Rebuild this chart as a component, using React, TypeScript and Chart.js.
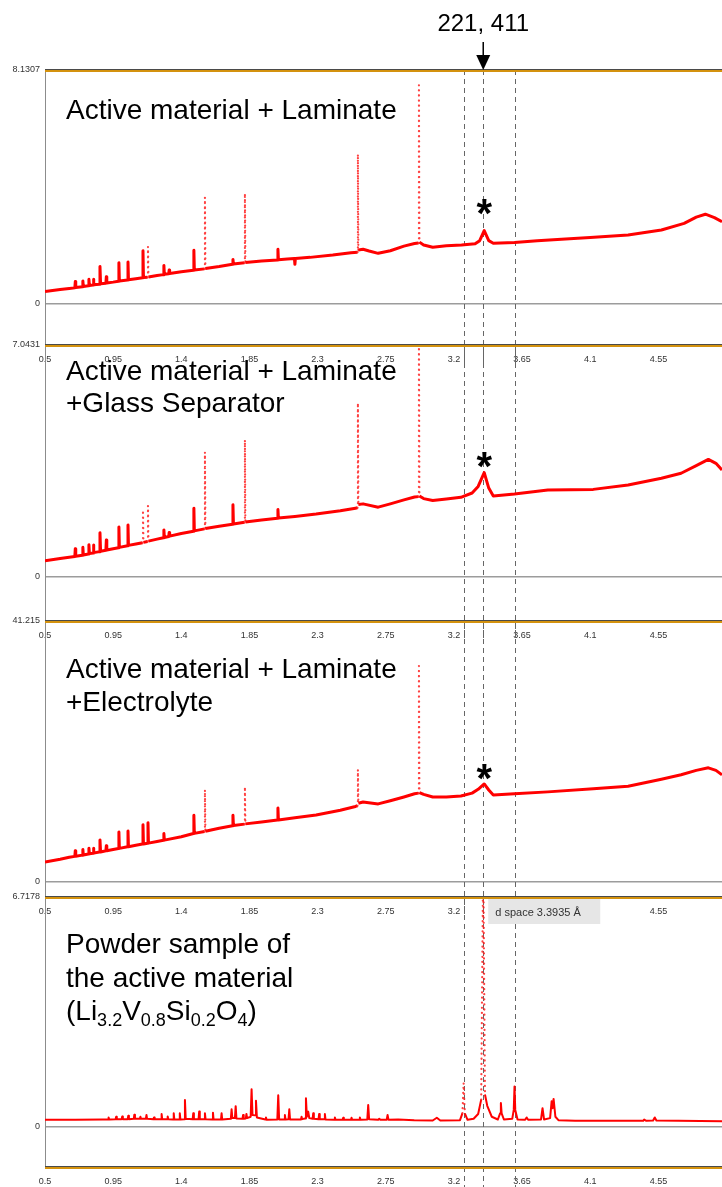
import React, { useEffect, useRef } from 'react';
import { Chart, registerables } from 'chart.js';

Chart.register(...registerables);

const FONT = '"Liberation Sans", Arial, Helvetica, sans-serif';

// x axis (d spacing, Å)
const xTicks = [0.5, 0.95, 1.4, 1.85, 2.3, 2.75, 3.2, 3.65, 4.1, 4.55];
const X_MIN = 0.5;
const X_MAX = 4.97;
const markerLines = [3.264, 3.3935, 3.6];
const highlightD = 3.3935;
const arrowLabel = '221, 411';
const tooltipLabel = 'd space 3.3935 Å';

// Panel 1: Active material + Laminate
const dLaminate = [
  0.5, 0.55, 0.6, 0.66, 0.697, 0.7, 0.703, 0.747, 0.75, 0.753, 0.787, 0.79, 0.793, 0.817, 0.82, 0.823,
  0.859, 0.863, 0.867, 0.902, 0.905, 0.908, 0.95, 0.985, 0.988, 0.991, 1.045, 1.048, 1.051, 1.1,
  1.144, 1.147, 1.15, 1.177, 1.18, 1.183, 1.24, 1.282, 1.285, 1.288, 1.317, 1.32, 1.323, 1.4,
  1.48, 1.483, 1.486, 1.553, 1.556, 1.559, 1.65, 1.738, 1.741, 1.744, 1.817, 1.82, 1.823, 1.93,
  2.035, 2.038, 2.041, 2.1, 2.147, 2.15, 2.153, 2.25, 2.4, 2.52, 2.563, 2.566, 2.569, 2.6, 2.64,
  2.7, 2.78, 2.87, 2.94, 2.966, 2.969, 2.972, 3.0, 3.06, 3.15, 3.25, 3.34, 3.37, 3.4, 3.43, 3.46,
  3.6, 3.75, 3.91, 4.1, 4.35, 4.57, 4.72, 4.8, 4.86, 4.92, 4.97,
];
const iLaminate = [
  0.43, 0.47, 0.5, 0.54, 0.56, 0.78, 0.57, 0.6, 0.8, 0.61, 0.63, 0.86, 0.64, 0.66, 0.86, 0.67,
  0.69, 1.3, 0.7, 0.72, 0.95, 0.73, 0.76, 0.79, 1.43, 0.8, 0.83, 1.46, 0.84, 0.88,
  0.91, 1.85, 0.92, 0.93, 1.99, 0.94, 0.99, 1.02, 1.34, 1.03, 1.05, 1.18, 1.06, 1.12,
  1.17, 1.87, 1.18, 1.22, 3.7, 1.23, 1.3, 1.38, 1.55, 1.39, 1.43, 3.84, 1.44, 1.49,
  1.53, 1.9, 1.54, 1.56, 1.58, 1.38, 1.58, 1.62, 1.7, 1.78, 1.8, 5.2, 1.88, 1.9, 1.84,
  1.76, 1.85, 2.01, 2.1, 2.12, 7.6, 2.15, 2.05, 1.97, 2.02, 2.05, 2.09, 2.2, 2.55, 2.2, 2.11,
  2.14, 2.2, 2.25, 2.31, 2.4, 2.57, 2.8, 3.02, 3.12, 3.0, 2.86,
];

// Panel 2: Active material + Laminate + Glass Separator
const dGlass = [
  0.5, 0.6, 0.66, 0.697, 0.7, 0.703, 0.747, 0.75, 0.753, 0.787, 0.79, 0.793, 0.817, 0.82, 0.823,
  0.859, 0.863, 0.867, 0.902, 0.905, 0.908, 0.95, 0.985, 0.988, 0.991, 1.045, 1.048, 1.051, 1.1,
  1.144, 1.147, 1.15, 1.177, 1.18, 1.183, 1.24, 1.282, 1.285, 1.288, 1.317, 1.32, 1.323, 1.4,
  1.48, 1.483, 1.486, 1.553, 1.556, 1.559, 1.65, 1.738, 1.741, 1.744, 1.817, 1.82, 1.823, 1.93,
  2.035, 2.038, 2.041, 2.15, 2.29, 2.45, 2.55, 2.563, 2.566, 2.569, 2.6, 2.7, 2.78, 2.87, 2.94,
  2.966, 2.969, 2.972, 3.0, 3.06, 3.15, 3.246, 3.32, 3.36, 3.4, 3.43, 3.46, 3.6, 3.82, 4.12,
  4.35, 4.57, 4.7, 4.8, 4.88, 4.93, 4.97,
];
const iGlass = [
  0.49, 0.56, 0.6, 0.62, 0.86, 0.63, 0.66, 0.9, 0.67, 0.7, 0.98, 0.71, 0.73, 0.97, 0.74,
  0.77, 1.34, 0.78, 0.81, 1.12, 0.82, 0.86, 0.89, 1.52, 0.9, 0.95, 1.58, 0.96, 1.0,
  1.04, 2.03, 1.05, 1.08, 2.16, 1.09, 1.15, 1.19, 1.43, 1.2, 1.23, 1.35, 1.24, 1.32,
  1.39, 2.09, 1.4, 1.46, 3.79, 1.47, 1.54, 1.6, 2.19, 1.61, 1.66, 4.16, 1.67, 1.73,
  1.78, 2.05, 1.79, 1.84, 1.91, 2.01, 2.09, 2.1, 5.28, 2.2, 2.22, 2.12, 2.22, 2.34, 2.43,
  2.44, 7.3, 2.46, 2.38, 2.32, 2.37, 2.42, 2.55, 2.75, 3.17, 2.7, 2.46, 2.52, 2.64, 2.66,
  2.79, 3.0, 3.15, 3.38, 3.57, 3.45, 3.25,
];

// Panel 3: Active material + Laminate + Electrolyte
const dElectrolyte = [
  0.5, 0.6, 0.66, 0.697, 0.7, 0.703, 0.747, 0.75, 0.753, 0.787, 0.79, 0.793, 0.817, 0.82, 0.823,
  0.859, 0.863, 0.867, 0.902, 0.905, 0.908, 0.95, 0.985, 0.988, 0.991, 1.045, 1.048, 1.051, 1.1,
  1.144, 1.147, 1.15, 1.177, 1.18, 1.183, 1.24, 1.282, 1.285, 1.288, 1.4,
  1.48, 1.483, 1.486, 1.553, 1.556, 1.559, 1.65, 1.738, 1.741, 1.744, 1.817, 1.82, 1.823, 1.93,
  2.035, 2.038, 2.041, 2.15, 2.29, 2.45, 2.55, 2.563, 2.566, 2.569, 2.6, 2.7, 2.78, 2.87, 2.94,
  2.966, 2.969, 2.972, 3.0, 3.06, 3.15, 3.246, 3.32, 3.36, 3.4, 3.43, 3.46, 3.6, 3.82, 4.12,
  4.35, 4.57, 4.7, 4.8, 4.88, 4.93, 4.97,
];
const iElectrolyte = [
  3.11, 3.55, 3.85, 4.0, 4.9, 4.02, 4.2, 5.1, 4.22, 4.38, 5.3, 4.4, 4.5, 5.3, 4.52,
  4.68, 6.6, 4.7, 4.88, 5.7, 4.9, 5.1, 5.25, 7.85, 5.27, 5.52, 8.0, 5.54, 5.76,
  5.95, 9.0, 5.97, 6.08, 9.3, 6.1, 6.35, 6.55, 7.6, 6.57, 7.1,
  7.62, 10.5, 7.64, 7.95, 14.5, 7.97, 8.45, 8.85, 10.5, 8.87, 9.1, 15.0, 9.14, 9.45,
  9.75, 11.65, 9.77, 10.1, 10.55, 11.3, 11.9, 12.0, 17.7, 12.4, 12.6, 12.3, 12.8, 13.4, 13.9,
  14.0, 34.1, 14.1, 13.8, 13.4, 13.4, 13.55, 14.0, 14.6, 15.45, 14.5, 13.7, 13.9, 14.2, 14.7,
  15.1, 16.2, 16.9, 17.6, 18.0, 17.6, 16.9,
];

// Panel 4: Powder sample of the active material
const dPowder = [
  0.5, 0.7, 0.88, 0.916, 0.92, 0.924, 0.966, 0.97, 0.974, 1.006, 1.01, 1.014, 1.046, 1.05, 1.054,
  1.086, 1.09, 1.094, 1.126, 1.13, 1.134, 1.166, 1.17, 1.174, 1.216, 1.22, 1.224, 1.266, 1.27, 1.274,
  1.306, 1.31, 1.314, 1.346, 1.35, 1.354, 1.386, 1.39, 1.394, 1.419, 1.424, 1.429, 1.475, 1.479, 1.483,
  1.514, 1.518, 1.522, 1.552, 1.556, 1.56, 1.605, 1.609, 1.613, 1.662, 1.666, 1.67, 1.727, 1.732, 1.737,
  1.754, 1.759, 1.764, 1.804, 1.808, 1.812, 1.826, 1.83, 1.834, 1.858, 1.864, 1.87, 1.887, 1.893, 1.899,
  1.955, 1.959, 1.963, 2.034, 2.04, 2.046, 2.08, 2.084, 2.088, 2.108, 2.113, 2.118, 2.19, 2.194, 2.198,
  2.217, 2.223, 2.229, 2.238, 2.245, 2.267, 2.271, 2.275, 2.306, 2.31, 2.314, 2.344, 2.348, 2.352,
  2.41, 2.414, 2.418, 2.465, 2.469, 2.473, 2.52, 2.524, 2.528, 2.575, 2.579, 2.583, 2.628, 2.634, 2.64,
  2.7, 2.707, 2.714, 2.756, 2.762, 2.768, 2.832, 2.938, 3.06, 3.087, 3.11, 3.24, 3.256, 3.264, 3.272, 3.29,
  3.33, 3.36, 3.38, 3.3935, 3.405, 3.42, 3.45, 3.49, 3.505, 3.51, 3.515, 3.53, 3.585, 3.595, 3.6, 3.605, 3.62,
  3.67, 3.68, 3.69, 3.775, 3.785, 3.795, 3.835, 3.845, 3.852, 3.858, 3.87, 3.89, 4.0, 4.45, 4.456, 4.47,
  4.515, 4.526, 4.537, 4.97,
];
const iPowder = [
  0.21, 0.21, 0.22, 0.22, 0.28, 0.22, 0.23, 0.3, 0.23, 0.23, 0.31, 0.23, 0.23, 0.33, 0.23,
  0.24, 0.36, 0.24, 0.24, 0.3, 0.24, 0.24, 0.35, 0.24, 0.23, 0.28, 0.23, 0.23, 0.38, 0.23,
  0.23, 0.31, 0.23, 0.22, 0.4, 0.22, 0.22, 0.4, 0.22, 0.23, 0.79, 0.24, 0.23, 0.4, 0.23,
  0.23, 0.45, 0.23, 0.23, 0.4, 0.23, 0.22, 0.42, 0.22, 0.22, 0.4, 0.22, 0.24, 0.52, 0.26,
  0.26, 0.61, 0.25, 0.24, 0.35, 0.24, 0.25, 0.38, 0.26, 0.3, 1.1, 0.35, 0.34, 0.77, 0.28,
  0.22, 0.28, 0.21, 0.22, 0.93, 0.22, 0.22, 0.35, 0.22, 0.23, 0.52, 0.22, 0.22, 0.3, 0.23,
  0.25, 0.84, 0.3, 0.45, 0.26, 0.24, 0.4, 0.24, 0.23, 0.38, 0.23, 0.23, 0.38, 0.22,
  0.21, 0.28, 0.21, 0.21, 0.27, 0.21, 0.21, 0.27, 0.21, 0.21, 0.28, 0.21, 0.22, 0.64, 0.23,
  0.21, 0.24, 0.21, 0.21, 0.35, 0.21, 0.22, 0.2, 0.19, 0.27, 0.19, 0.2, 0.4, 1.28, 0.4, 0.21,
  0.24, 0.38, 0.8, 8.0, 0.95, 0.62, 0.3, 0.22, 0.4, 0.7, 0.4, 0.22, 0.24, 0.5, 1.18, 0.5, 0.22,
  0.21, 0.28, 0.21, 0.22, 0.55, 0.22, 0.26, 0.75, 0.55, 0.82, 0.3, 0.2, 0.18, 0.18, 0.22, 0.18,
  0.19, 0.28, 0.19, 0.17,
];

const panelMax = [8.1307, 7.0431, 41.215, 6.7178];
const panelMin = [-1.425, -1.336, -2.42, -1.197];

type Spec = {
  d: number[];
  v: number[];
  max: number;
  min: number;
  top: number;
  height: number;
  padTop: number;
  axisH: number;
  labelPad: number;
  lineW: number;
  title: string[];
  titleY: number[];
  starY?: number;
  first?: boolean;
  last?: boolean;
};

const PAD = 14;

const specs: Spec[] = [
  { d: dLaminate, v: iLaminate, max: panelMax[0], min: panelMin[0], top: 0, height: 365, padTop: 70, axisH: 20, labelPad: 9, lineW: 3,
    title: ['Active material + Laminate'], titleY: [49], starY: 138, first: true },
  { d: dGlass, v: iGlass, max: panelMax[1], min: panelMin[1], top: 345 - PAD, height: 296 + PAD, padTop: PAD, axisH: 20, labelPad: 9, lineW: 3,
    title: ['Active material + Laminate', '+Glass Separator'], titleY: [35, 67], starY: 116 },
  { d: dElectrolyte, v: iElectrolyte, max: panelMax[2], min: panelMin[2], top: 621 - PAD, height: 296 + PAD, padTop: PAD, axisH: 20, labelPad: 9, lineW: 3,
    title: ['Active material + Laminate', '+Electrolyte'], titleY: [57, 90], starY: 152 },
  { d: dPowder, v: iPowder, max: panelMax[3], min: panelMin[3], top: 897 - PAD, height: 290 + PAD, padTop: PAD, axisH: 19, labelPad: 8, lineW: 2,
    title: ['Powder sample of', 'the active material'], titleY: [56, 90], last: true },
];

function goldLine(ctx: CanvasRenderingContext2D, left: number, right: number, y: number) {
  ctx.fillStyle = '#4a4a4a';
  ctx.fillRect(left, y - 1, right - left, 1);
  ctx.fillStyle = '#d4920e';
  ctx.fillRect(left, y, right - left, 2);
}

function makePlugin(s: Spec) {
  return {
    id: 'decor',
    beforeDatasetsDraw(chart: any) {
      const { ctx, chartArea: a, scales } = chart;
      ctx.save();
      ctx.strokeStyle = '#666';
      ctx.lineWidth = 1;
      ctx.setLineDash([5, 4]);
      for (const m of markerLines) {
        const px = Math.round(scales.x.getPixelForValue(m)) + 0.5;
        ctx.beginPath();
        ctx.moveTo(px, a.top);
        ctx.lineTo(px, chart.height);
        ctx.stroke();
      }
      ctx.restore();
    },
    afterDraw(chart: any) {
      const { ctx, chartArea: a, scales } = chart;
      const hx = scales.x.getPixelForValue(highlightD);
      ctx.save();
      goldLine(ctx, a.left, a.right, a.top);
      if (s.last) goldLine(ctx, a.left, a.right, a.bottom - 1);

      ctx.fillStyle = '#000';
      ctx.textBaseline = 'alphabetic';
      ctx.textAlign = 'left';
      ctx.font = `28px ${FONT}`;
      s.title.forEach((t, k) => ctx.fillText(t, a.left + 21, a.top + s.titleY[k]));

      if (s.last) {
        // (Li3.2V0.8Si0.2O4)
        const parts: [string, boolean][] = [['(Li', false], ['3.2', true], ['V', false], ['0.8', true], ['Si', false], ['0.2', true], ['O', false], ['4', true], [')', false]];
        let x = a.left + 21;
        const base = a.top + 123;
        for (const [t, sub] of parts) {
          ctx.font = sub ? `18px ${FONT}` : `28px ${FONT}`;
          ctx.fillText(t, x, sub ? base + 6 : base);
          x += ctx.measureText(t).width;
        }
        // tooltip box
        const bx = hx + 5;
        const by = a.top + 2;
        ctx.fillStyle = '#e6e6e6';
        ctx.fillRect(bx, by, 112, 25);
        ctx.fillStyle = '#333';
        ctx.font = `11px ${FONT}`;
        ctx.fillText(tooltipLabel, bx + 7, by + 17);
      }

      if (s.starY !== undefined) {
        ctx.fillStyle = '#000';
        ctx.font = `bold 40px ${FONT}`;
        ctx.textAlign = 'center';
        ctx.textBaseline = 'middle';
        ctx.fillText('*', hx + 1, a.top + s.starY + 8);
      }

      if (s.first) {
        ctx.fillStyle = '#000';
        ctx.textAlign = 'center';
        ctx.textBaseline = 'alphabetic';
        ctx.font = `24px ${FONT}`;
        ctx.fillText(arrowLabel, hx, 31);
        ctx.strokeStyle = '#000';
        ctx.lineWidth = 1.5;
        ctx.setLineDash([]);
        ctx.beginPath();
        ctx.moveTo(hx, 42);
        ctx.lineTo(hx, 58);
        ctx.stroke();
        ctx.beginPath();
        ctx.moveTo(hx - 7, 55);
        ctx.lineTo(hx + 7, 55);
        ctx.lineTo(hx, 70);
        ctx.closePath();
        ctx.fill();
      }
      ctx.restore();
    },
  };
}

function steep(c: any) {
  return Math.abs(c.p1.y - c.p0.y) > 28;
}

function Panel({ s }: { s: Spec }) {
  const ref = useRef<HTMLCanvasElement | null>(null);
  useEffect(() => {
    if (!ref.current) return;
    const chart = new Chart(ref.current, {
      type: 'line',
      data: {
        datasets: [
          {
            data: s.d.map((x, k) => ({ x, y: s.v[k] })),
            borderColor: '#ff0000',
            borderWidth: s.lineW,
            borderJoinStyle: 'round',
            pointRadius: 0,
            tension: 0,
            segment: {
              borderDash: (c: any) => (steep(c) ? [0.1, 5] : undefined),
              borderWidth: (c: any) => (steep(c) ? 2.2 : undefined),
              borderCapStyle: (c: any) => (steep(c) ? 'round' : undefined),
              borderColor: (c: any) => (steep(c) ? 'rgba(255,30,30,0.85)' : undefined),
            },
          } as any,
        ],
      },
      options: {
        animation: false,
        responsive: false,
        devicePixelRatio: 1,
        layout: { padding: { top: s.padTop, left: 0, right: 0, bottom: 0 } },
        plugins: { legend: { display: false }, tooltip: { enabled: false } },
        events: [],
        scales: {
          x: {
            type: 'linear',
            min: X_MIN,
            max: X_MAX,
            afterFit: (sc: any) => { sc.height = s.axisH; },
            afterBuildTicks: (sc: any) => { sc.ticks = xTicks.map((value) => ({ value })); },
            ticks: {
              callback: (v: any) => String(v),
              autoSkip: false,
              maxRotation: 0,
              padding: s.labelPad,
              color: '#333',
              font: { size: 9, family: FONT },
            },
            grid: { display: false, drawTicks: false },
            border: { display: false },
          },
          y: {
            type: 'linear',
            min: s.min,
            max: s.max,
            afterFit: (sc: any) => { sc.width = 45; },
            afterBuildTicks: (sc: any) => { sc.ticks = [{ value: 0 }, { value: s.max }]; },
            ticks: {
              callback: (v: any) => String(v),
              autoSkip: false,
              padding: 5,
              color: '#333',
              font: { size: 9, family: FONT },
            },
            grid: {
              drawTicks: false,
              lineWidth: 1.5,
              color: (c: any) => (c.tick && c.tick.value === 0 ? '#9c9c9c' : 'rgba(0,0,0,0)'),
            },
            border: { display: true, color: '#8c8c8c', width: 1 },
          },
        },
      } as any,
      plugins: [makePlugin(s) as any],
    });
    return () => chart.destroy();
  }, [s]);
  return (
    <canvas
      ref={ref}
      width={722}
      height={s.height}
      style={{ position: 'absolute', left: 0, top: s.top, width: 722, height: s.height, display: 'block' }}
    />
  );
}

export default function App() {
  return (
    <div style={{ position: 'absolute', left: 0, top: 0, width: 722, height: 1187, background: '#fff', overflow: 'hidden' }}>
      {specs.map((s, k) => (
        <Panel key={k} s={s} />
      ))}
    </div>
  );
}
